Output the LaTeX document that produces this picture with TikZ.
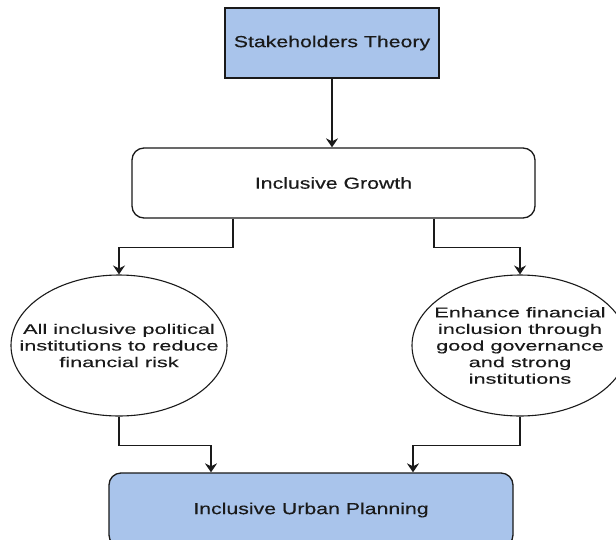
\documentclass[tikz,border=0pt]{standalone}
\usepackage{fontspec}
\newfontfamily\boxfont[FakeStretch=1.33,FakeBold=0.3]{Liberation Sans}
\newfontfamily\circfont[FakeStretch=1.55,FakeBold=0.3]{Liberation Sans}
\usetikzlibrary{shapes.geometric,arrows.meta}
\definecolor{bluefill}{HTML}{A9C4EB}
\definecolor{linecol}{HTML}{1A1A1A}
\tikzset{
  bluebox/.style={draw=linecol, line width=1.3pt, fill=bluefill, inner sep=0pt,
    font=\boxfont\fontsize{16}{19}\selectfont, text=linecol},
  whitebox/.style={draw=linecol, line width=1.3pt, fill=white, rounded corners=12pt, inner sep=0pt,
    font=\boxfont\fontsize{16}{19}\selectfont, text=linecol},
  oval/.style={draw=linecol, line width=1.1pt, ellipse, inner sep=0pt,
    minimum width=216pt, minimum height=141pt},
  ovaltext/.style={align=center, inner sep=0pt,
    font=\circfont\fontsize{14}{16.6}\selectfont, text=linecol},
  arr/.style={draw=linecol, line width=1.3pt, -{Stealth[length=9pt,width=12pt,inset=3pt]}}
}
\begin{document}
\begin{tikzpicture}[x=1pt,y=-1pt]
\useasboundingbox (0,0) rectangle (616,539);
\clip (0,0) rectangle (616,539);
\fill[white] (0,0) rectangle (616,539);

\node[bluebox, minimum width=214pt, minimum height=70pt] (st) at (332,43) {Stakeholders Theory};
\node[whitebox, minimum width=403pt, minimum height=70pt] (ig) at (333.5,183) {Inclusive Growth};

\node[oval] (l) at (119,345.5) {};
\node[ovaltext] (lt) at (l.center) {All inclusive political\\institutions to reduce\\financial risk};
\node[oval] (r) at (520,345.5) {};
\node[ovaltext] (rt) at (r.center) {Enhance financial\\inclusion through\\good governance\\and strong\\institutions};

\node[bluebox, rounded corners=12pt, minimum width=404pt, minimum height=74pt] (up) at (311,510) {Inclusive Urban Planning};

\draw[arr] (st.south) -- (st.south |- ig.north);
\draw[arr] ([xshift=-100.5pt]ig.south) -- ++(0,29) -| (l.north);
\draw[arr] ([xshift=100.5pt]ig.south) -- ++(0,29) -| (r.north);
\draw[arr] (l.south) -- ++(0,29) -| ([xshift=-100pt]up.north);
\draw[arr] (r.south) -- ++(0,29) -| ([xshift=102pt]up.north);
\end{tikzpicture}
\end{document}
